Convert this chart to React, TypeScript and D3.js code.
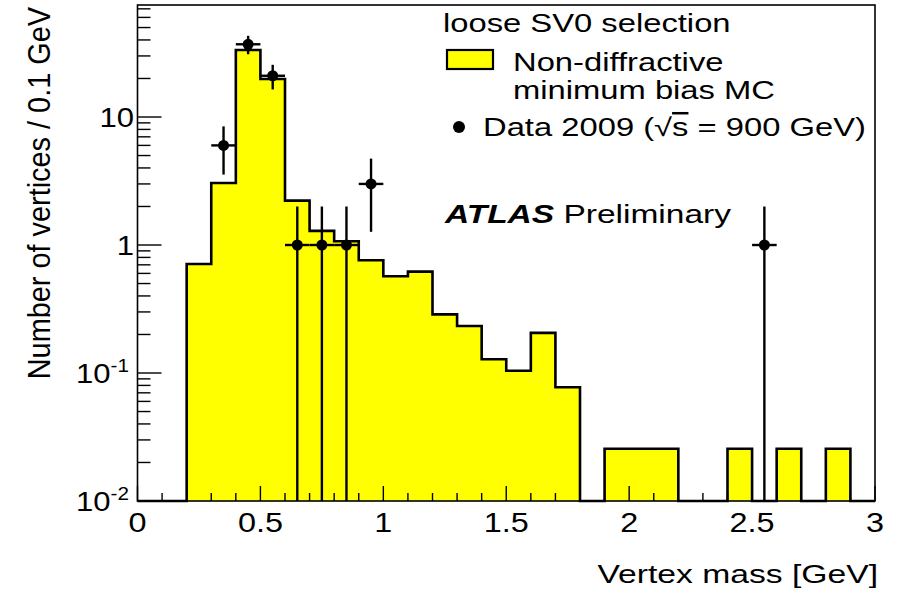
import React from "react";
import * as d3 from "d3";

// Histogram bins (lower edges, GeV) and simulated counts per 0.1 GeV
const binLow = [
  0.0, 0.1, 0.2, 0.3, 0.4, 0.5, 0.6, 0.7, 0.8, 0.9,
  1.0, 1.1, 1.2, 1.3, 1.4, 1.5, 1.6, 1.7, 1.8, 1.9,
  2.0, 2.1, 2.2, 2.3, 2.4, 2.5, 2.6, 2.7, 2.8, 2.9,
];
const binWidth = 0.1;
const mcCounts = [
  0, 0, 0.71, 3.05, 33.4, 19.8, 2.22, 1.29, 1.07, 0.76,
  0.57, 0.62, 0.287, 0.233, 0.128, 0.104, 0.206, 0.0773, 0, 0.0256,
  0.0256, 0.0256, 0, 0, 0.0256, 0, 0.0256, 0, 0.0256, 0,
];

// Observed vertices (bin centres, counts)
const dataMass = [0.35, 0.45, 0.55, 0.65, 0.75, 0.85, 0.95, 2.55];
const dataCounts = [6, 37, 21, 1, 1, 1, 3, 1];

const xTicks = [0, 0.5, 1, 1.5, 2, 2.5, 3];
const xTickLabels = ["0", "0.5", "1", "1.5", "2", "2.5", "3"];
const yDecades = [0.01, 0.1, 1, 10];
const yTickBase = ["10", "10", "1", "10"];
const yTickExp = ["-2", "-1", "", ""];

const W = 897;
const H = 595;
const FONT = "'Liberation Sans', Arial, Helvetica, sans-serif";

const plot = { left: 137.5, right: 875, top: 5, bottom: 501 };

const x = d3.scaleLinear().domain([0, 3]).range([plot.left, plot.right]);
const y = d3.scaleLog().domain([0.01, 75]).range([plot.bottom, plot.top]);

const yc = (v: number) => (v <= 0.01 ? plot.bottom : y(v));

function Txt(props: {
  x: number;
  y: number;
  size?: number;
  sx?: number;
  anchor?: string;
  children: React.ReactNode;
}) {
  const { size = 25, sx = 1.31, anchor = "start" } = props;
  return (
    <text
      transform={`translate(${props.x},${props.y}) scale(${sx},1)`}
      fontSize={size}
      textAnchor={anchor}
      fontFamily={FONT}
      fill="#000"
    >
      {props.children}
    </text>
  );
}

export default function App() {
  // Step outline of the MC histogram
  const pts: [number, number][] = [[x(binLow[0]), plot.bottom]];
  binLow.forEach((lo, i) => {
    const yy = yc(mcCounts[i]);
    pts.push([x(lo), yy]);
    pts.push([x(lo + binWidth), yy]);
  });
  pts.push([x(binLow[binLow.length - 1] + binWidth), plot.bottom]);
  const histPath = d3.line()(pts) as string;

  // Minor ticks
  const xMinor = d3.range(0, 3.0001, 0.1).map((v) => +v.toFixed(2));
  const yMinor: number[] = [];
  yDecades.forEach((d) => {
    for (let m = 2; m <= 9; m++) {
      const v = d * m;
      if (v <= 75) yMinor.push(v);
    }
  });

  return (
    <div style={{ position: "fixed", left: 0, top: 0 }}>
      <svg width={W} height={H} style={{ display: "block", background: "#fff" }}>
        {/* histogram */}
        <path d={histPath + "Z"} fill="#ffff00" stroke="none" />
        <path d={histPath} fill="none" stroke="#000" strokeWidth={2.6} strokeLinejoin="miter" />

        {/* frame */}
        <rect
          x={plot.left}
          y={plot.top}
          width={plot.right - plot.left}
          height={plot.bottom - plot.top}
          fill="none"
          stroke="#000"
          strokeWidth={1.6}
        />

        {/* x ticks */}
        {xMinor.map((v, i) => {
          const major = Math.abs(v * 2 - Math.round(v * 2)) < 1e-6;
          return (
            <line
              key={"xm" + i}
              x1={x(v)}
              x2={x(v)}
              y1={plot.bottom}
              y2={plot.bottom - (major ? 15 : 8)}
              stroke="#000"
              strokeWidth={1.4}
            />
          );
        })}
        {/* y ticks */}
        {yDecades.map((d, i) => (
          <line key={"yd" + i} x1={plot.left} x2={plot.left + 24} y1={y(d)} y2={y(d)} stroke="#000" strokeWidth={1.4} />
        ))}
        {yMinor.map((v, i) => (
          <line key={"yn" + i} x1={plot.left} x2={plot.left + 13} y1={y(v)} y2={y(v)} stroke="#000" strokeWidth={1.4} />
        ))}

        {/* tick labels */}
        {xTicks.map((t, i) => (
          <Txt key={"xl" + i} x={x(t)} y={532} size={27} sx={1.2} anchor="middle">
            {xTickLabels[i]}
          </Txt>
        ))}
        {yDecades.map((d, i) => (
          <Txt key={"yl" + i} x={yTickExp[i] ? 129 : 134} y={y(d) + 10} size={27} sx={1.15} anchor="end">
            {yTickBase[i]}
            {yTickExp[i] ? (
              <tspan dy={-11} fontSize={18}>
                {yTickExp[i]}
              </tspan>
            ) : null}
          </Txt>
        ))}

        {/* axis titles */}
        <Txt x={878} y={583} size={25.5} sx={1.32} anchor="end">
          Vertex mass [GeV]
        </Txt>
        <text
          transform={`translate(50,7) rotate(-90) scale(1.07,1.15)`}
          fontSize={27}
          textAnchor="end"
          fontFamily={FONT}
        >
          Number of vertices / 0.1 GeV
        </text>

        {/* data points with Poisson errors */}
        {dataMass.map((m, i) => {
          const n = dataCounts[i];
          const e = Math.sqrt(n);
          const cx = x(m);
          const cy = y(n);
          return (
            <g key={"d" + i}>
              <line x1={cx} x2={cx} y1={y(n + e)} y2={yc(n - e)} stroke="#000" strokeWidth={2.4} />
              <line
                x1={x(m - binWidth / 2)}
                x2={x(m + binWidth / 2)}
                y1={cy}
                y2={cy}
                stroke="#000"
                strokeWidth={2.4}
              />
              <circle cx={cx} cy={cy} r={5.5} fill="#000" />
            </g>
          );
        })}

        {/* legend */}
        <Txt x={443} y={32}>loose SV0 selection</Txt>
        <rect x={447} y={50} width={46} height={19} fill="#ffff00" stroke="#000" strokeWidth={2.2} />
        <Txt x={513} y={71}>Non-diffractive</Txt>
        <Txt x={513} y={99}>minimum bias MC</Txt>
        <circle cx={459} cy={127} r={6} fill="#000" />
        <Txt x={483} y={136}>
          Data 2009 (<tspan>√</tspan>
          <tspan style={{ textDecoration: "overline" }}>s</tspan> = 900 GeV)
        </Txt>

        <Txt x={445} y={223} sx={1.34}>
          <tspan fontWeight="bold" fontStyle="italic">
            ATLAS
          </tspan>{" "}
          Preliminary
        </Txt>
      </svg>
    </div>
  );
}
